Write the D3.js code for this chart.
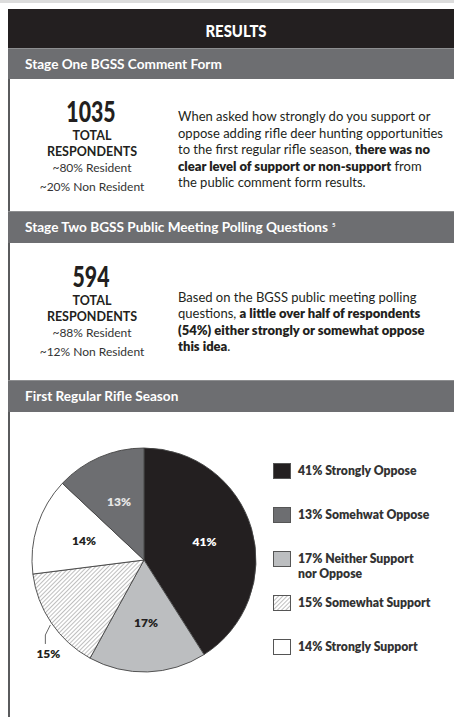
<!DOCTYPE html>
<html><head><meta charset="utf-8">
<script src="https://cdn.jsdelivr.net/npm/d3@7"></script>
<style>
html,body{margin:0;padding:0;background:#fff;}
svg{display:block;font-family:Lato,"Open Sans",sans-serif;}
</style></head>
<body><svg id="c" width="454" height="717"></svg>
<script>
// ---- data ----
const categories = ["Strongly Oppose","Neither Support nor Oppose","Somewhat Support","Strongly Support","Somewhat Oppose"];
const values = [41, 17, 15, 14, 13];
const fills = ["#231f20", "#bcbec0", "url(#hatch)", "#ffffff", "#6d6e71"];
const labelColors = ["#ffffff", "#231f20", "#231f20", "#231f20", "#e6e6e6"];
const legendOrder = [0, 4, 1, 2, 3];
const legendLines = [
  ["41% Strongly Oppose"],
  ["17% Neither Support", "nor Oppose"],
  ["15% Somewhat Support"],
  ["14% Strongly Support"],
  ["13% Somehwat Oppose"]
];
const title = "RESULTS";
const sectionTitles = ["Stage One BGSS Comment Form", "Stage Two BGSS Public Meeting Polling Questions", "First Regular Rifle Season"];
const stage1Stats = ["1035", "TOTAL", "RESPONDENTS", "~80% Resident", "~20% Non Resident"];
const stage2Stats = ["594", "TOTAL", "RESPONDENTS", "~88% Resident", "~12% Non Resident"];
const stage1Text = [
  [["When asked how strongly do you support or", false]],
  [["oppose adding rifle deer hunting opportunities", false]],
  [["to the first regular rifle season, ", false], ["there was no", true]],
  [["clear level of support or non-support", true], [" from", false]],
  [["the public comment form results.", false]]
];
const stage2Text = [
  [["Based on the BGSS public meeting polling", false]],
  [["questions, ", false], ["a little over half of respondents", true]],
  [["(54%) either strongly or somewhat oppose", true]],
  [["this idea", true], [".", false]]
];

// ---- drawing ----
const svg = d3.select("#c");
const dark = "#231f20", mid = "#6d6e71";

const defs = svg.append("defs");
const pat = defs.append("pattern").attr("id","hatch").attr("patternUnits","userSpaceOnUse")
  .attr("width",3).attr("height",3).attr("patternTransform","rotate(45)");
pat.append("rect").attr("width",3).attr("height",3).attr("fill","#fff");
pat.append("line").attr("x1",0).attr("y1",0).attr("x2",0).attr("y2",3)
  .attr("stroke","#8a8a8a").attr("stroke-width",1.1);

// top strip
svg.append("rect").attr("x",0).attr("y",0).attr("width",454).attr("height",3).attr("fill","#dcdcdc");
// left border
svg.append("rect").attr("x",8).attr("y",9).attr("width",2).attr("height",708).attr("fill","#5a5b5d");
// header
svg.append("rect").attr("x",8).attr("y",9).attr("width",446).attr("height",39).attr("fill",dark);
svg.append("text").attr("transform","translate(236,37) scale(0.85,1)").attr("text-anchor","middle")
  .attr("fill","#fff").attr("font-weight",900).attr("font-size",17.5).text(title);

// section bars
const bars = [{y:48,h:31,ty:69},{y:211,h:32,ty:232},{y:380,h:32,ty:401}];
bars.forEach((b,i)=>{
  svg.append("rect").attr("x",8).attr("y",b.y).attr("width",446).attr("height",b.h).attr("fill",mid);
  svg.append("line").attr("x1",8).attr("x2",454).attr("y1",b.y+0.5).attr("y2",b.y+0.5).attr("stroke","#8d8e90");
  const t = svg.append("text").attr("x",25).attr("y",b.ty).attr("fill","#fff")
    .attr("font-weight",700).attr("font-size",13.6).text(sectionTitles[i]);
  if(i===1){ t.append("tspan").attr("dx",4).attr("dy",-5).attr("font-size",6).text("5"); }
});

function stats(arr, top){
  const g = svg.append("g").attr("text-anchor","middle").attr("fill",dark);
  g.append("text").attr("transform",`translate(91,${top}) scale(0.76,1)`).attr("font-size",28).attr("font-weight",900).text(arr[0]);
  g.append("text").attr("x",92).attr("y",top+18).attr("font-size",12.5).attr("font-weight",700).text(arr[1]);
  g.append("text").attr("x",92).attr("y",top+34).attr("font-size",12.5).attr("font-weight",700).text(arr[2]);
  g.append("text").attr("x",92).attr("y",top+50).attr("font-size",12).attr("fill","#333").text(arr[3]);
  g.append("text").attr("x",92).attr("y",top+69).attr("font-size",12).attr("fill","#333").text(arr[4]);
}
stats(stage1Stats, 122);
stats(stage2Stats, 287);

function para(lines, x, y0, lh){
  lines.forEach((ln,i)=>{
    const t = svg.append("text").attr("x",x).attr("y",y0+i*lh).attr("font-size",13).attr("fill",dark);
    ln.forEach(([s,b])=> t.append("tspan").attr("font-weight", b?800:400).text(s));
  });
}
para(stage1Text, 178, 121, 16.5);
para(stage2Text, 178, 302, 16.3);

// pie
const cx = 144, cy = 560, R = 112;
const pie = d3.pie().sort(null).value(d=>d)(values);
const arc = d3.arc().innerRadius(0).outerRadius(R);
const labelArc = d3.arc().innerRadius(63).outerRadius(63);
const pg = svg.append("g").attr("transform",`translate(${cx},${cy})`);
pg.selectAll("path").data(pie).join("path")
  .attr("d",arc).attr("fill",(d,i)=>fills[i])
  .attr("stroke","#444").attr("stroke-width",0.9);
pg.selectAll("text.lbl").data(pie).join("text").attr("class","lbl")
  .filter((d,i)=>i!==2)
  .attr("x",d=>labelArc.centroid(d)[0]).attr("y",d=>labelArc.centroid(d)[1]+4)
  .attr("text-anchor","middle").attr("font-size",12).attr("font-weight",800)
  .attr("fill",(d)=>labelColors[d.index]).text(d=>d.value+"%");
// outside label for small hatched slice
{
  const d = pie[2];
  const edge = d3.arc().innerRadius(R).outerRadius(R).centroid(d);
  const p1 = [edge[0]-1, edge[1]+2];
  const p2 = [p1[0]-5, p1[1]+10];
  const p3 = [p2[0], p2[1]+9];
  pg.append("path").attr("d",d3.line()([p1,p2,p3])).attr("fill","none").attr("stroke","#555").attr("stroke-width",0.9);
  pg.append("text").attr("x",p3[0]+3).attr("y",p3[1]+14).attr("text-anchor","middle")
    .attr("font-size",12).attr("font-weight",800).attr("fill",dark).text(d.value+"%");
}

// legend
const lg = svg.append("g");
legendOrder.forEach((k,j)=>{
  const y = 463 + j*44;
  lg.append("rect").attr("x",273.5).attr("y",y+0.5).attr("width",17).attr("height",15)
    .attr("fill",fills[k]).attr("stroke","#555").attr("stroke-width",1);
  legendLines[k].forEach((s,m)=>{
    lg.append("text").attr("x",298).attr("y",y+12+m*15).attr("font-size",12.2)
      .attr("font-weight",800).attr("fill","#333").text(s);
  });
});
</script></body></html>
